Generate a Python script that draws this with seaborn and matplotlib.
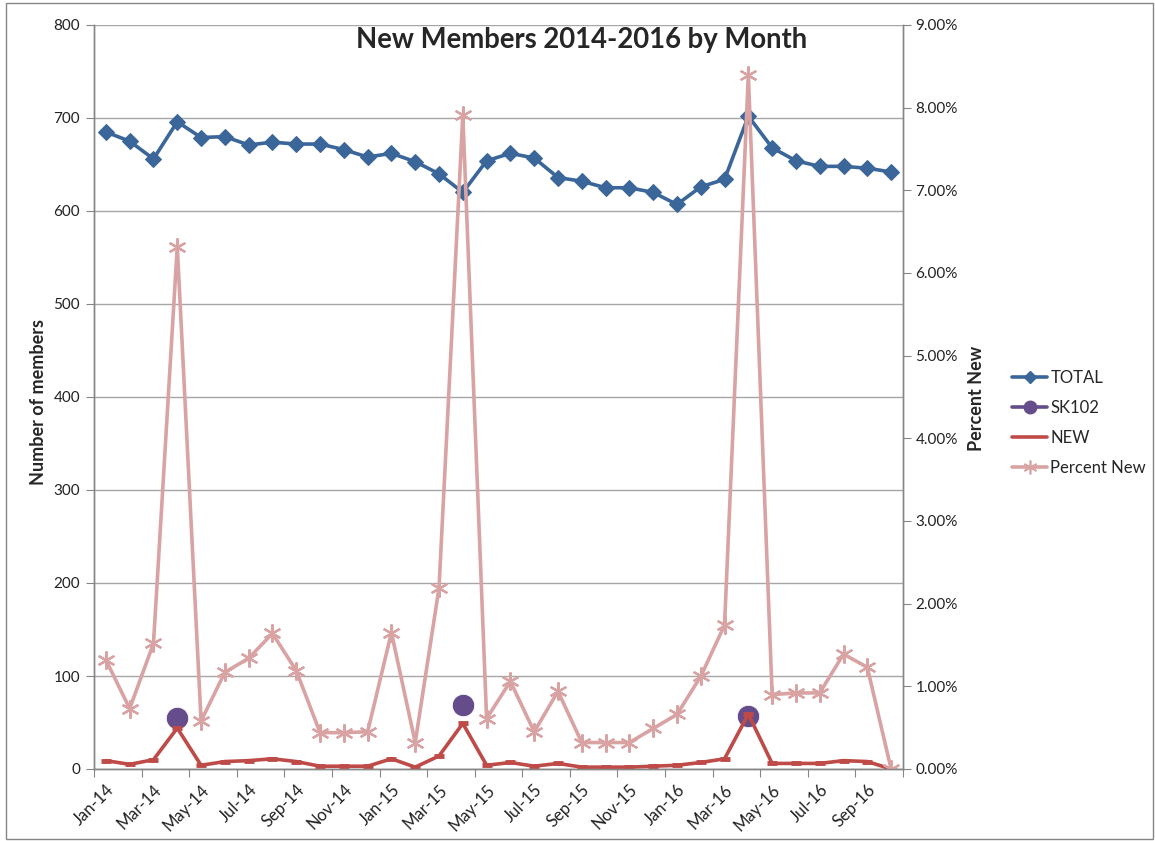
import numpy as np
import pandas as pd
import matplotlib
matplotlib.use('Agg')
import matplotlib.pyplot as plt
import matplotlib.ticker as mticker
from matplotlib.lines import Line2D
from matplotlib.patches import Rectangle
import seaborn as sns

sns.set_style('white')
plt.rcParams['font.family'] = ['Lato', 'DejaVu Sans']

# 월별 데이터 (Jan-14 ~ Oct-16)
months = pd.date_range('2014-01-01', periods=34, freq='MS').strftime('%b-%y').tolist()
total = [685, 675, 656, 696, 679, 680, 671, 674, 672, 672, 666, 658,
         662, 653, 640, 620, 654, 662, 657, 636, 632, 625, 625, 620,
         607, 626, 634, 702, 668, 654, 648, 648, 646, 642]
new = [9, 5, 10, 44, 4, 8, 9, 11, 8, 3, 3, 3,
       11, 2, 14, 49, 4, 7, 3, 6, 2, 2, 2, 3,
       4, 7, 11, 59, 6, 6, 6, 9, 8, 0]
sk102 = [np.nan, np.nan, np.nan, 55, np.nan, np.nan, np.nan, np.nan, np.nan, np.nan, np.nan, np.nan,
         np.nan, np.nan, np.nan, 69, np.nan, np.nan, np.nan, np.nan, np.nan, np.nan, np.nan, np.nan,
         np.nan, np.nan, np.nan, 57, np.nan, np.nan, np.nan, np.nan, np.nan, np.nan]
pct_new = [1.32, 0.73, 1.52, 6.32, 0.58, 1.17, 1.34, 1.64, 1.19, 0.44, 0.44, 0.45,
           1.65, 0.32, 2.19, 7.91, 0.61, 1.06, 0.45, 0.94, 0.32, 0.32, 0.32, 0.49,
           0.66, 1.12, 1.74, 8.40, 0.90, 0.92, 0.92, 1.39, 1.23, 0.00]

df = pd.DataFrame({'month': months, 'TOTAL': total, 'SK102': sk102, 'NEW': new,
                   'Percent New': np.array(pct_new) / 100})
df['idx'] = range(len(df))

c_total = '#3B6699'
c_sk = '#644D8A'
c_new = '#BE4B48'
c_pct = '#D8A3A2'

fig = plt.figure(figsize=(11.55, 8.41), dpi=100)
ax = fig.add_axes([94 / 1155, 1 - 769 / 841, (903 - 94) / 1155, (769 - 25) / 841])
ax2 = ax.twinx()

sns.lineplot(data=df, x='idx', y='TOTAL', ax=ax, color=c_total, lw=2.6,
             marker='D', markersize=8, markeredgecolor=c_total)
sns.scatterplot(data=df, x='idx', y='SK102', ax=ax, color=c_sk, s=260,
                edgecolor='white', linewidth=0.6, zorder=3)
sns.lineplot(data=df, x='idx', y='NEW', ax=ax, color=c_new, lw=2.6,
             marker='_', markersize=7, markeredgewidth=3.5, markeredgecolor=c_new, zorder=4)
sns.lineplot(data=df, x='idx', y='Percent New', ax=ax2, color=c_pct, lw=2.6,
             marker=(6, 2, 0), markersize=13, markeredgewidth=1.6, markeredgecolor=c_pct)

# 축 설정
ax.set_xlim(-0.5, 33.5)
ax.set_ylim(0, 800)
ax2.set_ylim(0, 0.09)
ax.set_yticks(range(0, 801, 100))
ax2.set_yticks(np.arange(0, 0.0901, 0.01))
ax2.yaxis.set_major_formatter(mticker.FuncFormatter(lambda v, p: f'{v * 100:.2f}%'))

ax.set_xticks(np.arange(-0.5, 34, 2))
ax.set_xticklabels([])
ax.set_xticks(range(0, 34, 2), minor=True)
ax.set_xticklabels(months[::2], minor=True, rotation=45, ha='right', va='top',
                   rotation_mode='anchor', fontsize=12, color='#222222')
ax.tick_params(axis='x', which='minor', length=0, pad=9)
ax.tick_params(axis='x', which='major', length=6, color='#868686', direction='out')
ax.tick_params(axis='y', length=6, color='#868686', direction='out', labelsize=11,
               labelcolor='#222222', pad=4)
ax2.tick_params(axis='y', length=6, color='#868686', direction='out', labelsize=11,
                labelcolor='#222222', pad=3)
ax.xaxis.set_ticks_position('bottom')
ax.yaxis.set_ticks_position('left')

ax.grid(axis='y', color='#A6A6A6', lw=1)
ax.set_axisbelow(True)
for a in (ax, ax2):
    a.spines['top'].set_visible(False)
    for s in ('left', 'right', 'bottom'):
        a.spines[s].set_color('#868686')
        a.spines[s].set_linewidth(1)
    a.set_xlabel('')
    a.set_ylabel('')

fig.text(39 / 1155, 1 - 402 / 841, 'Number of members', rotation=90, ha='center', va='center',
         fontsize=13, fontweight='bold')
fig.text(977 / 1155, 1 - 398 / 841, 'Percent New', rotation=90, ha='center', va='center',
         fontsize=13, fontweight='bold')
fig.text(582 / 1155, 1 - 40 / 841, 'New Members 2014-2016 by Month', ha='center', va='center',
         fontsize=19.8, fontweight='bold')

# 범례
handles = [
    Line2D([], [], color=c_total, lw=2.6, marker='D', markersize=6),
    Line2D([], [], color=c_sk, lw=2.6, marker='o', markersize=9),
    Line2D([], [], color=c_new, lw=2.6),
    Line2D([], [], color=c_pct, lw=2.6, marker=(6, 2, 0), markersize=10, markeredgewidth=1.2),
]
fig.legend(handles, ['TOTAL', 'SK102', 'NEW', 'Percent New'], loc='center left',
           bbox_to_anchor=(997 / 1155, 1 - 423 / 841), frameon=False, fontsize=12,
           handlelength=2.1, labelspacing=0.85, handletextpad=0.2)

fig.patches.append(Rectangle((6 / 1155, 2 / 841), 1 - 8 / 1155, 1 - 5 / 841,
                             transform=fig.transFigure, fill=False, edgecolor='#868686', lw=1))

plt.savefig('out.png', dpi=100)
